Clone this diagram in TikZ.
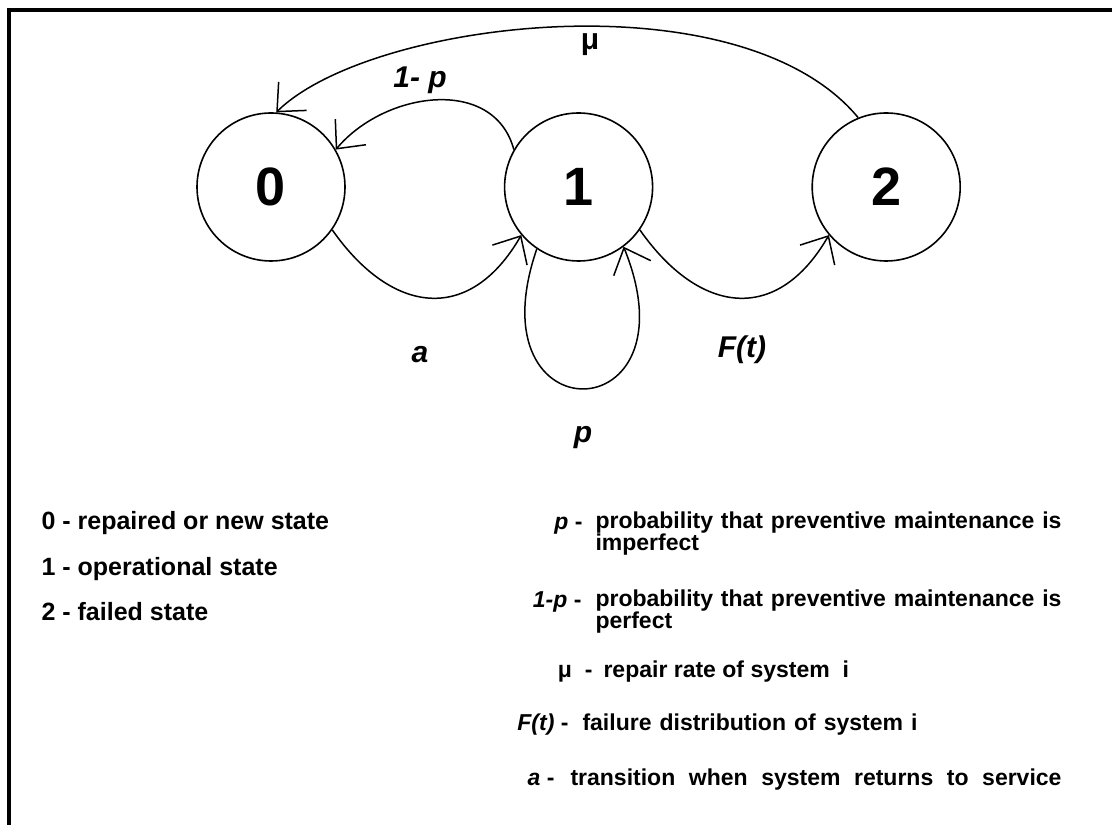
\documentclass[tikz,border=0pt]{standalone}
\usepackage{fontspec}
\setmainfont{Liberation Sans}
\usetikzlibrary{arrows.meta, positioning}

\begin{document}
\begin{tikzpicture}[x=1pt, y=1pt,
    state/.style={circle, draw, line width=1.6pt, minimum size=148pt, inner sep=0pt, font=\fontsize{54}{54}\selectfont\bfseries},
    trans/.style={line width=1.5pt, -{Straight Barb[length=22pt, width=40pt]}},
    arclabel/.style={font=\fontsize{30}{30}\selectfont\bfseries\itshape},
    legend/.style={anchor=base west, align=left, font=\fontsize{23}{21}\selectfont\bfseries},
    key/.style={anchor=base east, font=\fontsize{23}{21}\selectfont\bfseries}
]
\useasboundingbox (0,0) rectangle (1112,825);
\draw[line width=3.5pt] (1112,815) -| (9,0);

\node[state] (s0) at (271,638) {0};
\node[state, right=158pt of s0] (s1) {1};
\node[state, right=158pt of s1] (s2) {2};

\draw[trans] (s2.112) .. controls (740,850) and (370,805) .. (s0.86);
\draw[trans] (s1.150) to[out=105, in=50, looseness=1.1] (s0.30);
\draw[trans] (s0.-35) to[out=-55, in=-120, looseness=1.4] (s1.-140);
\draw[trans] (s1.-35) to[out=-55, in=-120, looseness=1.4] (s2.-140);
\draw[trans] (s1.-124) to[out=-109, in=-68, looseness=5.9] (s1.-53);

\node[arclabel, font=\fontsize{30}{30}\selectfont\bfseries] (mu) at (590,780) {μ};
\node[arclabel] (onemp) at (420,745) {1- p};
\node[arclabel] (a) at (420,470) {a};
\node[arclabel] (ft) at (742,475) {F(t)};
\node[arclabel] (p) at (583,387) {p};

\node[legend, font=\fontsize{25}{25}\selectfont\bfseries] (l0) at (38,295) {0 - repaired or new state};
\node[legend, font=\fontsize{25}{25}\selectfont\bfseries] (l1) at (38,249) {1 - operational state};
\node[legend, font=\fontsize{25}{25}\selectfont\bfseries] (l2) at (38,204) {2 - failed state};

\node[key] (k1) at (586,295) {\textit{p} -};
\node[legend] (d1) at (592,274) {\makebox[466pt][s]{probability that preventive maintenance is}\\imperfect};
\node[key] (k2) at (585,217) {\textit{1-p} -};
\node[legend] (d2) at (592,196) {\makebox[466pt][s]{probability that preventive maintenance is}\\perfect};
\node[key] (k3) at (596,147) {μ\ \ -};
\node[legend] (d3) at (600,147) {repair rate of system\ \ i};
\node[key] (k4) at (572,94) {\textit{F(t)} -};
\node[legend] (d4) at (579,94) {\makebox[335pt][s]{failure distribution of system i}};
\node[key] (k5) at (558,39) {\textit{a} -};
\node[legend] (d5) at (567,39) {\makebox[491pt][s]{transition when system returns to service}};
\end{tikzpicture}
\end{document}
